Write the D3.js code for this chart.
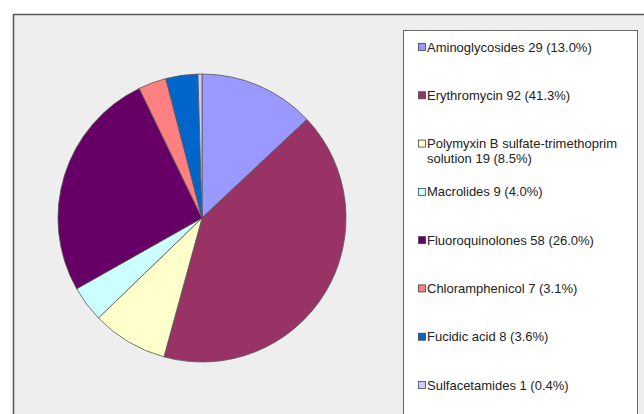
<!DOCTYPE html>
<html>
<head>
<meta charset="utf-8">
<script src="https://cdn.jsdelivr.net/npm/d3@7"></script>
<style>
  body { margin: 0; background: #fff; }
  svg { display: block; }
</style>
</head>
<body>
<div id="chart"></div>
<script>
const labels = ['Aminoglycosides', 'Erythromycin', 'Polymyxin B sulfate-trimethoprim solution',
    'Macrolides', 'Fluoroquinolones', 'Chloramphenicol', 'Fucidic acid', 'Sulfacetamides'];
const counts = [29, 92, 19, 9, 58, 7, 8, 1];
const percents = ['13.0%', '41.3%', '8.5%', '4.0%', '26.0%', '3.1%', '3.6%', '0.4%'];
const colors = ['#9999ff', '#993366', '#ffffcc', '#ccffff', '#660066', '#ff8080', '#0066cc', '#ccccff'];

const width = 644, height = 414;

const svg = d3.select('#chart').append('svg')
    .attr('width', width)
    .attr('height', height);

// Chart area frame (runs off the right / bottom edge)
svg.append('rect')
    .attr('x', 13.5)
    .attr('y', 14.5)
    .attr('width', 700)
    .attr('height', 500)
    .attr('fill', '#eeeeee')
    .attr('stroke', '#555')
    .attr('stroke-width', 1.5);

// Pie
const cx = 202, cy = 218, radius = 144;
const pie = d3.pie().sort(null).value(d => d);
const arc = d3.arc().innerRadius(0).outerRadius(radius);

svg.append('g')
    .attr('transform', `translate(${cx},${cy})`)
    .selectAll('path')
    .data(pie(counts))
    .join('path')
    .attr('d', arc)
    .attr('fill', (d, i) => colors[i])
    .attr('stroke', '#555')
    .attr('stroke-width', 0.8);

// Legend box
svg.append('rect')
    .attr('x', 403.5)
    .attr('y', 30.5)
    .attr('width', 234)
    .attr('height', 450)
    .attr('fill', '#fff')
    .attr('stroke', '#666')
    .attr('stroke-width', 1);

const legendY = d3.scalePoint()
    .domain(d3.range(labels.length))
    .range([47, 385]);

const item = svg.append('g')
    .selectAll('g')
    .data(labels)
    .join('g')
    .attr('transform', (d, i) => `translate(418,${legendY(i)})`);

item.append('rect')
    .attr('x', 0.5)
    .attr('y', -3.5)
    .attr('width', 7)
    .attr('height', 7)
    .attr('fill', (d, i) => colors[i])
    .attr('stroke', '#444')
    .attr('stroke-width', 0.8);

item.each(function(d, i) {
    const g = d3.select(this);
    const text = g.append('text')
        .attr('x', 9)
        .attr('y', 0)
        .attr('font-family', 'Liberation Sans, Arial, sans-serif')
        .attr('font-size', 13)
        .attr('fill', '#222');
    if (d.length > 30) {
        // wrap long label onto two lines
        text.append('tspan').attr('x', 9).attr('dy', '0.35em').text('Polymyxin B sulfate-trimethoprim');
        text.append('tspan').attr('x', 9).attr('dy', '15').text(`solution ${counts[i]} (${percents[i]})`);
    } else {
        text.attr('dy', '0.35em').text(`${d} ${counts[i]} (${percents[i]})`);
    }
});
</script>
</body>
</html>
